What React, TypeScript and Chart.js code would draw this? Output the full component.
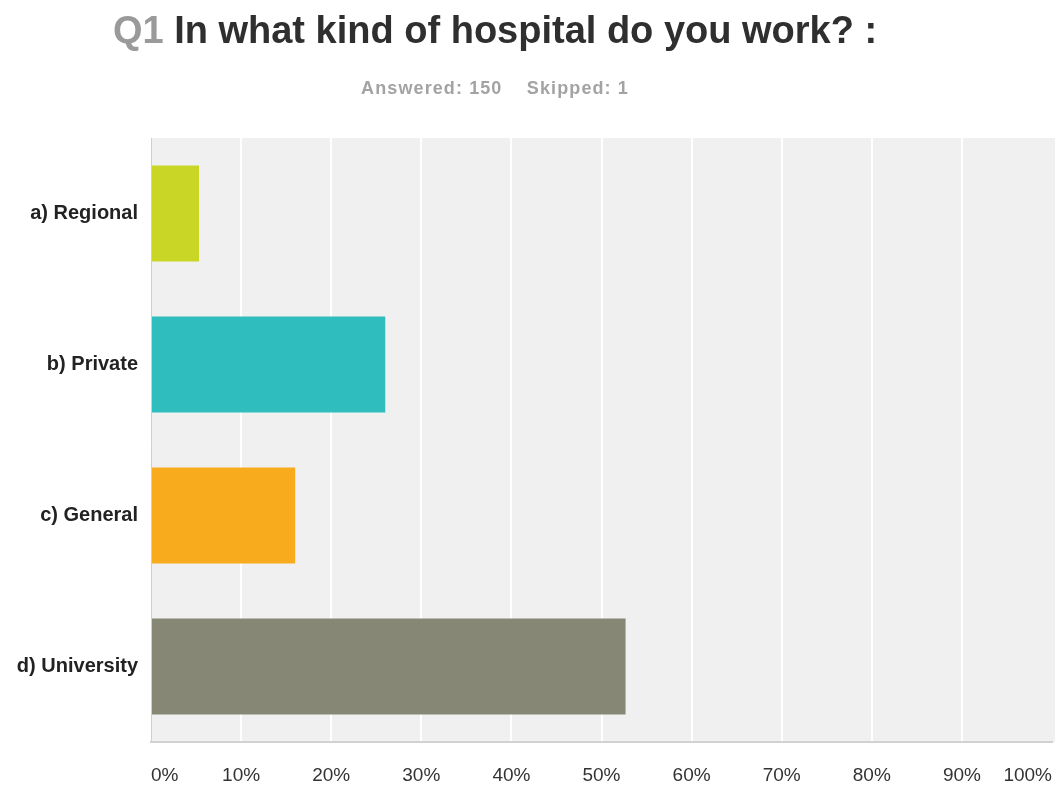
import React, { useEffect, useRef } from "react";
import { Chart, registerables } from "chart.js";

Chart.register(...registerables);

const categories = ["a) Regional", "b) Private", "c) General", "d) University"];
const percentValues = [5.33, 26.0, 16.0, 52.67];
const barColors = ["#cad626", "#2fbdbd", "#f8ab1c", "#878775"];
const tickValues = [0, 10, 20, 30, 40, 50, 60, 70, 80, 90, 100];

const bgPlugin = {
  id: "plotBg",
  beforeDraw(chart: any) {
    const { ctx, chartArea } = chart;
    ctx.save();
    ctx.fillStyle = "#f0f0f0";
    ctx.fillRect(chartArea.left, chartArea.top, chartArea.right - chartArea.left + 3, chartArea.bottom - chartArea.top);
    ctx.restore();
  },
};

export default function App() {
  const ref = useRef<HTMLCanvasElement | null>(null);
  useEffect(() => {
    if (!ref.current) return;
    const chart = new Chart(ref.current, {
      type: "bar",
      data: {
        labels: categories,
        datasets: [
          {
            data: percentValues,
            backgroundColor: barColors,
            borderWidth: 0,
            barPercentage: 0.636,
            categoryPercentage: 1,
          },
        ],
      },
      options: {
        indexAxis: "y",
        animation: false,
        responsive: false,
        layout: { padding: { top: 138, right: 0, bottom: 0, left: 0 } },
        plugins: { legend: { display: false }, tooltip: { enabled: false } },
        scales: {
          x: {
            min: 0,
            max: 100,
            afterBuildTicks(scale: any) {
              scale.ticks = tickValues.map((v) => ({ value: v }));
            },
            afterFit(scale: any) {
              scale.height = 48;
              scale.paddingLeft = 0;
              scale.paddingRight = 11;
            },
            grid: {
              color: (c: any) => (c.tick && (c.tick.value === 0 || c.tick.value === 100) ? "rgba(0,0,0,0)" : "#ffffff"),
              lineWidth: 2,
              drawTicks: false,
            },
            border: { display: true, color: "#d2d2d2", width: 2 },
            ticks: {
              align: "inner",
              padding: 22,
              color: "#333333",
              font: { family: "Liberation Sans, Arial, sans-serif", size: 19 },
              callback: (v: any) => v + "%",
            },
          },
          y: {
            afterFit(scale: any) {
              scale.width = 151;
            },
            grid: { display: false, drawTicks: false },
            border: { display: true, color: "#cfcfcf", width: 1 },
            ticks: {
              padding: 13,
              color: "#222222",
              font: { family: "Liberation Sans, Arial, sans-serif", size: 20, weight: "bold" },
            },
          },
        },
      },
      plugins: [bgPlugin],
    } as any);
    return () => chart.destroy();
  }, []);

  return (
    <div style={{ position: "fixed", left: 0, top: 0, width: 1063, height: 790, background: "#ffffff" }}>
      <canvas ref={ref} width={1063} height={790} style={{ position: "absolute", left: 0, top: 0 }} />
      <div
        style={{
          position: "absolute",
          left: 0,
          width: 990,
          top: 7,
          textAlign: "center",
          fontFamily: "Liberation Sans, Arial, sans-serif",
          fontWeight: "bold",
          fontSize: 38,
          lineHeight: "46px",
          color: "#2f2f2f",
          whiteSpace: "pre",
        }}
      >
        <span style={{ color: "#9a9a9a" }}>Q1</span> In what kind of hospital do you work? :
      </div>
      <div
        style={{
          position: "absolute",
          left: 0,
          width: 990,
          top: 76,
          textAlign: "center",
          fontFamily: "Liberation Sans, Arial, sans-serif",
          fontWeight: "bold",
          fontSize: 18,
          letterSpacing: "1.1px",
          lineHeight: "24px",
          color: "#a3a3a3",
          whiteSpace: "pre",
        }}
      >
        {"Answered: 150    Skipped: 1"}
      </div>
    </div>
  );
}
